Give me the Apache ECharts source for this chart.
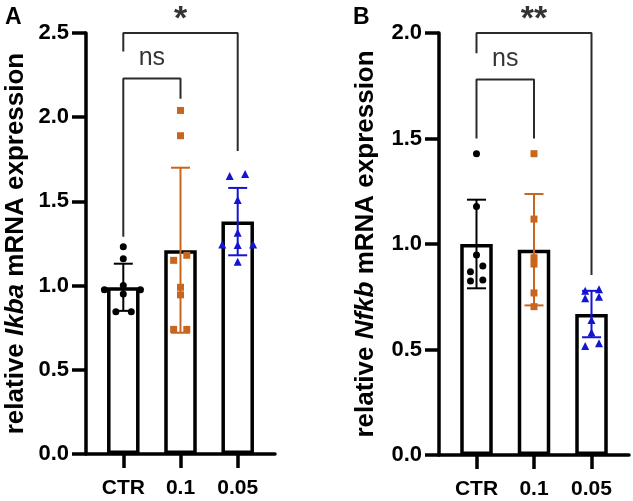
<!DOCTYPE html>
<html>
<head>
<meta charset="utf-8">
<script src="https://cdn.jsdelivr.net/npm/echarts@6/dist/echarts.min.js"></script>
<style>html,body{margin:0;padding:0;background:#fff}#c{width:633px;height:501px}</style>
</head>
<body>
<div id="c"></div>
<script>
// ---- data ----
const categories = ['CTR', '0.1', '0.05'];
const groupColors = ['#000000', '#C8661E', '#1414D2'];
const groupSymbols = ['circle', 'rect', 'triangle'];

// Panel A: Ikba
const ikbaMean = [0.99, 1.21, 1.38];
const ikbaSD = [0.14, 0.49, 0.20];
const ikbaCTR = [1.23, 1.16, 1.00, 0.95, 0.845, 0.845, 0.975, 0.975];
const ikbaCTRJitter = [0, 0, 0, 0, -0.13, 0.14, -0.33, 0.30];
const ikba01 = [2.04, 1.89, 1.15, 1.18, 0.99, 0.945, 0.74, 0.74];
const ikba01Jitter = [0, 0, -0.12, 0.11, 0, 0, -0.12, 0.11];
const ikba005 = [1.651, 1.663, 1.508, 1.314, 1.244, 1.241, 1.244, 1.142];
const ikba005Jitter = [-0.14, 0.13, 0, 0, -0.27, 0, 0.27, 0];
const ikbaTicks = [0, 2.5, 0.5];
// brackets: [from, to, top, leftEnd, rightEnd, text]
const ikbaBrackets = [[0, 2, 2.5, 2.39, 1.80, '*'], [0, 1, 2.23, 1.29, 2.11, 'ns']];

// Panel B: Nfkb
const nfkbMean = [1.0, 0.973, 0.668];
const nfkbSD = [0.21, 0.264, 0.11];
const nfkbCTR = [1.428, 1.178, 0.948, 0.869, 0.896, 0.825, 0.829];
const nfkbCTRJitter = [0, 0, 0, -0.105, 0.11, -0.105, 0.11];
const nfkb01 = [1.428, 1.118, 0.935, 0.905, 0.768, 0.703];
const nfkb01Jitter = [0, 0, 0, 0, 0, 0];
const nfkb005 = [0.779, 0.785, 0.743, 0.75, 0.64, 0.58, 0.517, 0.53];
const nfkb005Jitter = [-0.11, 0.13, -0.11, 0.13, 0, 0, -0.11, 0.13];
const nfkbTicks = [0, 2.0, 0.5];
const nfkbBrackets = [[0, 2, 2.0, 1.904, 0.853, '**'], [0, 1, 1.78, 1.50, 1.50, 'ns']];

// ---- chart ----
const FONT = '"Liberation Sans", Arial, Helvetica, sans-serif';
const chart = echarts.init(document.getElementById('c'), null, {renderer: 'canvas'});

function xAxisCfg(gi) {
  return {
    type: 'value', gridIndex: gi, min: -0.652, max: 2.652,
    splitLine: {show: false},
    axisLine: {show: true, onZero: false, lineStyle: {color: '#000', width: 3.5}},
    axisTick: {show: true, length: 14, lineStyle: {color: '#000', width: 3.5}, customValues: [0, 1, 2]},
    axisLabel: {
      customValues: [0, 1, 2], margin: 24, color: '#000', fontFamily: FONT, fontSize: 21, fontWeight: 'bold',
      formatter: v => categories[Math.round(v)]
    }
  };
}
function yAxisCfg(gi, ticks, gene, gap) {
  return {
    type: 'value', gridIndex: gi, min: ticks[0], max: ticks[1], interval: ticks[2],
    splitLine: {show: false},
    axisLine: {show: true, onZero: false, lineStyle: {color: '#000', width: 3.5}},
    axisTick: {show: true, length: 14, lineStyle: {color: '#000', width: 3.5}},
    axisLabel: {margin: 17, color: '#000', fontFamily: FONT, fontSize: 22, fontWeight: 'bold', formatter: v => v.toFixed(1)},
    name: 'relative {i|' + gene + '} mRNA expression',
    nameLocation: 'middle', nameGap: gap,
    nameTextStyle: {
      color: '#000', fontFamily: FONT, fontSize: 26, fontWeight: 'bold',
      rich: {i: {fontStyle: 'italic', fontWeight: 'bold', fontFamily: FONT, fontSize: 26, color: '#000'}}
    }
  };
}

function panelSeries(gi, means, sds, pts, jits, brackets) {
  const s = [];
  s.push({
    type: 'bar', xAxisIndex: gi, yAxisIndex: gi, barWidth: 32.5, z: 2,
    data: means.map((m, i) => [i, m]),
    itemStyle: {color: '#fff', borderColor: '#000', borderWidth: 3.5},
    silent: true
  });
  s.push({
    type: 'custom', xAxisIndex: gi, yAxisIndex: gi, z: 3,
    data: means.map((m, i) => [i, m, sds[i]]),
    renderItem: function (params, api) {
      const x = api.value(0), m = api.value(1), sd = api.value(2);
      const t = api.coord([x, m + sd]), b = api.coord([x, m - sd]);
      const c = groupColors[params.dataIndex];
      const hw = 9.5;
      const st = {stroke: c, lineWidth: 2};
      return {type: 'group', children: [
        {type: 'line', shape: {x1: t[0], y1: t[1], x2: b[0], y2: b[1]}, style: st},
        {type: 'line', shape: {x1: t[0] - hw, y1: t[1], x2: t[0] + hw, y2: t[1]}, style: st},
        {type: 'line', shape: {x1: b[0] - hw, y1: b[1], x2: b[0] + hw, y2: b[1]}, style: st}
      ]};
    }
  });
  pts.forEach((arr, g) => {
    s.push({
      type: 'scatter', xAxisIndex: gi, yAxisIndex: gi, z: 4,
      symbol: groupSymbols[g], symbolSize: g === 2 ? 8 : 7,
      itemStyle: {color: groupColors[g], opacity: 1},
      data: arr.map((v, k) => [g + jits[g][k], v])
    });
  });
  brackets.forEach(br => {
    const [a, b, top, le, re, txt] = br;
    s.push({
      type: 'line', xAxisIndex: gi, yAxisIndex: gi, z: 5, clip: false,
      symbol: 'none', lineStyle: {color: '#2b2b2b', width: 2},
      data: [[a, le], [a, top], [b, top], [b, re]]
    });
    const star = txt.indexOf('*') >= 0;
    s.push({
      type: 'scatter', xAxisIndex: gi, yAxisIndex: gi, z: 6, clip: false,
      symbolSize: 1, itemStyle: {color: 'rgba(0,0,0,0)'},
      data: [[(a + b) / 2, top]],
      label: {
        show: true, position: 'inside', formatter: txt, color: '#000', fontFamily: FONT,
        fontSize: star ? 34 : 25, fontWeight: star ? 'bold' : 'normal',
        offset: star ? [0, -13] : [0, -20]
      }
    });
  });
  return s;
}

const option = {
  animation: false,
  backgroundColor: '#fff',
  grid: [
    {left: 86, top: 33, width: 189, height: 421},
    {left: 439, top: 33, width: 190, height: 422}
  ],
  xAxis: [xAxisCfg(0), xAxisCfg(1)],
  yAxis: [yAxisCfg(0, ikbaTicks, 'Ikba', 57), yAxisCfg(1, nfkbTicks, 'Nfkb', 60)],
  graphic: [
    {type: 'text', left: 5, top: 6, style: {text: 'A', fontFamily: FONT, fontSize: 23, fontWeight: 'bold', fill: '#000'}},
    {type: 'text', left: 353, top: 6, style: {text: 'B', fontFamily: FONT, fontSize: 23, fontWeight: 'bold', fill: '#000'}}
  ],
  series: [].concat(
    panelSeries(0, ikbaMean, ikbaSD, [ikbaCTR, ikba01, ikba005], [ikbaCTRJitter, ikba01Jitter, ikba005Jitter], ikbaBrackets),
    panelSeries(1, nfkbMean, nfkbSD, [nfkbCTR, nfkb01, nfkb005], [nfkbCTRJitter, nfkb01Jitter, nfkb005Jitter], nfkbBrackets)
  )
};
chart.setOption(option);
</script>
</body>
</html>
